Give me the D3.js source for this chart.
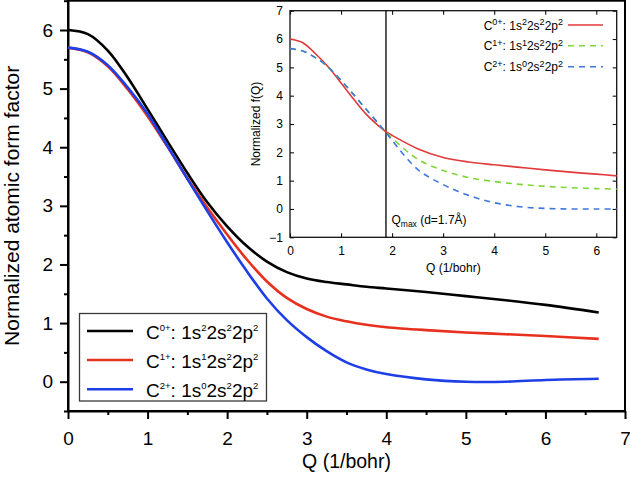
<!DOCTYPE html>
<html><head><meta charset="utf-8">
<script src="https://cdn.jsdelivr.net/npm/d3@7"></script>
<style>body{margin:0;background:#fff}svg{display:block}text{font-family:"Liberation Sans",Arial,sans-serif;fill:#000}</style>
</head><body><svg id="c" width="630" height="487"></svg>
<script>
// ---------- main chart data ----------
const qMain = [0, 0.25, 0.5, 0.75, 1.0, 1.25, 1.5, 1.75, 2.0, 2.25, 2.5, 2.75, 3.0, 3.25, 3.5, 3.75, 4.0, 4.5, 5.0, 5.5, 6.0, 6.67];
const fC0 = [6.00, 5.93, 5.65, 5.19, 4.65, 4.10, 3.56, 3.06, 2.65, 2.31, 2.05, 1.87, 1.76, 1.70, 1.66, 1.62, 1.59, 1.53, 1.46, 1.39, 1.31, 1.18];
const fC1 = [5.70, 5.62, 5.38, 4.99, 4.53, 4.01, 3.47, 2.97, 2.51, 2.08, 1.71, 1.43, 1.24, 1.11, 1.03, 0.97, 0.93, 0.88, 0.84, 0.81, 0.78, 0.73];
const fC2 = [5.70, 5.63, 5.40, 5.02, 4.57, 4.02, 3.46, 2.91, 2.38, 1.88, 1.42, 1.05, 0.76, 0.52, 0.33, 0.21, 0.13, 0.04, 0.00, 0.00, 0.03, 0.05];
const xTicksMain = [0, 1, 2, 3, 4, 5, 6, 7];
const yTicksMain = [0, 1, 2, 3, 4, 5, 6];
const mainNames = ["C0+", "C1+", "C2+"];
const mainShells = ["2", "1", "0"];

// ---------- inset data ----------
const qInset = [0, 0.25, 0.5, 0.75, 1.0, 1.25, 1.5, 1.75, 1.86, 2.0, 2.5, 3.0, 3.5, 4.0, 4.5, 5.0, 5.5, 6.0, 6.4];
const inC0 = [6.00, 5.87, 5.48, 5.01, 4.45, 3.87, 3.33, 2.91, 2.75, 2.60, 2.13, 1.82, 1.66, 1.56, 1.47, 1.38, 1.30, 1.23, 1.17];
const inC1 = [5.66, 5.58, 5.34, 5.01, 4.54, 4.03, 3.50, 2.98, 2.75, 2.50, 1.76, 1.36, 1.11, 0.97, 0.87, 0.80, 0.75, 0.72, 0.70];
const inC2 = [5.66, 5.58, 5.34, 5.01, 4.54, 4.03, 3.50, 2.98, 2.75, 2.42, 1.40, 0.86, 0.48, 0.22, 0.08, 0.02, 0.00, 0.00, 0.00];
const xTicksInset = [0, 1, 2, 3, 4, 5, 6];
const yTicksInset = [-1, 0, 1, 2, 3, 4, 5, 6, 7];
const qMax = 1.88;

const svg = d3.select("#c");

// ---------- main scales ----------
const x = d3.scaleLinear().domain([0, 7]).range([68, 625]);
const y = d3.scaleLinear().domain([-0.5, 6.5]).range([411, 0.7]);
const mainColors = ["#000000", "#e8301e", "#1e3ee6"];

// frame
svg.append("rect").attr("x", x(0)).attr("y", y(6.5)).attr("width", x(7) - x(0)).attr("height", y(-0.5) - y(6.5))
  .attr("fill", "none").attr("stroke", "#000").attr("stroke-width", 2);

// x axis
const xMinor = d3.range(0.5, 7, 1);
const gxm = svg.append("g").attr("transform", `translate(0,${y(-0.5)})`)
  .call(d3.axisBottom(x).tickValues(xMinor).tickSize(4).tickFormat(""));
gxm.select(".domain").remove();
gxm.selectAll("line").attr("stroke-width", 2);
const gx = svg.append("g").attr("transform", `translate(0,${y(-0.5)})`)
  .call(d3.axisBottom(x).tickValues(xTicksMain).tickSize(8).tickSizeOuter(0).tickPadding(13).tickFormat(d3.format("d")));
gx.select(".domain").attr("stroke-width", 2);
gx.selectAll("line").attr("stroke-width", 2);
gx.selectAll("text").attr("font-size", 19).attr("font-family", "Liberation Sans, Arial, sans-serif").attr("fill", "#000");

// y axis
const yMinor = d3.range(-0.5, 6.6, 1);
const gym = svg.append("g").attr("transform", `translate(${x(0)},0)`)
  .call(d3.axisLeft(y).tickValues(yMinor).tickSize(4).tickFormat(""));
gym.select(".domain").remove();
gym.selectAll("line").attr("stroke-width", 2);
const gy = svg.append("g").attr("transform", `translate(${x(0)},0)`)
  .call(d3.axisLeft(y).tickValues(yTicksMain).tickSize(8).tickSizeOuter(0).tickPadding(7).tickFormat(d3.format("d")));
gy.select(".domain").attr("stroke-width", 2);
gy.selectAll("line").attr("stroke-width", 2);
gy.selectAll("text").attr("font-size", 19).attr("font-family", "Liberation Sans, Arial, sans-serif").attr("fill", "#000");

// axis titles
svg.append("text").attr("x", (x(0) + x(7)) / 2).attr("y", 468).attr("text-anchor", "middle")
  .attr("font-size", 19.5).text("Q (1/bohr)");
svg.append("text").attr("transform", `translate(19,${(y(-0.5) + y(6.5)) / 2}) rotate(-90)`)
  .attr("text-anchor", "middle").attr("font-size", 21).text("Normalized atomic form factor");

// curves
const mainSeries = [fC0, fC1, fC2];
const lineMain = d3.line().x(d => x(d[0])).y(d => y(d[1])).curve(d3.curveCatmullRom.alpha(0.5));
mainSeries.forEach((s, i) => {
  svg.append("path").datum(qMain.map((q, j) => [q, s[j]]))
    .attr("d", lineMain).attr("fill", "none").attr("stroke", mainColors[i]).attr("stroke-width", 2.6)
    .attr("stroke-linejoin", "round");
});

// label builder with superscripts
function richLabel(sel, name, k, fs, supFs, supDy) {
  const parts = [
    ["C", 0], [name.slice(1), 1], [": 1s", 0], [k, 1], ["2s", 0], ["2", 1], ["2p", 0], ["2", 1]
  ];
  let up = false;
  parts.forEach(([t, sup]) => {
    const ts = sel.append("tspan").text(t).attr("font-size", sup ? supFs : fs);
    if (sup && !up) { ts.attr("dy", -supDy); up = true; }
    else if (!sup && up) { ts.attr("dy", supDy); up = false; }
  });
}

// main legend
const lg = svg.append("g");
lg.append("rect").attr("x", 79.5).attr("y", 313.5).attr("width", 187).attr("height", 87.5)
  .attr("fill", "#fff").attr("stroke", "#3a3a3a").attr("stroke-width", 1.3);
const legRows = [331, 360, 389.3];
mainNames.forEach((n, i) => {
  lg.append("line").attr("x1", 87).attr("x2", 133).attr("y1", legRows[i]).attr("y2", legRows[i])
    .attr("stroke", mainColors[i]).attr("stroke-width", 2.6);
  const t = lg.append("text").attr("x", 146).attr("y", legRows[i] + 8).attr("font-size", 19);
  richLabel(t, n, mainShells[i], 19, 9.5, 8);
});

// ---------- inset ----------
const xi = d3.scaleLinear().domain([0, 6.4]).range([290, 616.7]);
const yi = d3.scaleLinear().domain([-1, 7]).range([237.3, 10.7]);
const inColors = ["#e23a3a", "#7fd636", "#3f78dc"];
const ins = svg.append("g");
ins.append("rect").attr("x", xi(0)).attr("y", yi(7)).attr("width", xi(6.4) - xi(0)).attr("height", yi(-1) - yi(7))
  .attr("fill", "#fff");

const styleInsetAxis = g => {
  g.select(".domain").remove();
  g.selectAll("line").attr("stroke", "#111").attr("stroke-width", 1.1);
  g.selectAll("text").attr("font-size", 12).attr("font-family", "Liberation Sans, Arial, sans-serif").attr("fill", "#000");
};
const fmtMinus = d => (d < 0 ? "\u2212" + Math.abs(d) : String(d));
ins.append("g").attr("transform", `translate(0,${yi(-1)})`)
  .call(d3.axisBottom(xi).tickValues(xTicksInset).tickSize(-4).tickSizeOuter(0).tickPadding(9).tickFormat(fmtMinus))
  .call(styleInsetAxis);
ins.append("g").attr("transform", `translate(0,${yi(7)})`)
  .call(d3.axisTop(xi).tickValues(xTicksInset).tickSize(-4).tickSizeOuter(0).tickFormat(""))
  .call(styleInsetAxis);
ins.append("g").attr("transform", `translate(${xi(0)},0)`)
  .call(d3.axisLeft(yi).tickValues(yTicksInset).tickSize(-4).tickSizeOuter(0).tickPadding(7).tickFormat(fmtMinus))
  .call(styleInsetAxis);
ins.append("g").attr("transform", `translate(${xi(6.4)},0)`)
  .call(d3.axisRight(yi).tickValues(yTicksInset).tickSize(-4).tickSizeOuter(0).tickFormat(""))
  .call(styleInsetAxis);

ins.append("rect").attr("x", xi(0)).attr("y", yi(7)).attr("width", xi(6.4) - xi(0)).attr("height", yi(-1) - yi(7))
  .attr("fill", "none").attr("stroke", "#111").attr("stroke-width", 1.3);

// Qmax line
ins.append("line").attr("x1", xi(qMax)).attr("x2", xi(qMax)).attr("y1", yi(7)).attr("y2", yi(-1))
  .attr("stroke", "#111").attr("stroke-width", 1.4);
const qt = ins.append("text").attr("x", xi(qMax) + 5.5).attr("y", 224).attr("font-size", 12);
qt.append("tspan").text("Q");
qt.append("tspan").text("max").attr("font-size", 8.5).attr("dy", 3);
qt.append("tspan").text(" (d=1.7\u00c5)").attr("dy", -3);

// inset curves
const lineIn = d3.line().x(d => xi(d[0])).y(d => yi(d[1])).curve(d3.curveCatmullRom.alpha(0.5));
const inSeries = [inC0, inC1, inC2];
const dashes = [null, "6,5", "6,5"];
inSeries.forEach((s, i) => {
  const p = ins.append("path").datum(qInset.map((q, j) => [q, s[j]]))
    .attr("d", lineIn).attr("fill", "none").attr("stroke", inColors[i]).attr("stroke-width", 1.6);
  if (dashes[i]) p.attr("stroke-dasharray", dashes[i]);
});

// inset axis titles
ins.append("text").attr("x", (xi(0) + xi(6.4)) / 2).attr("y", 272).attr("text-anchor", "middle")
  .attr("font-size", 12).text("Q (1/bohr)");
ins.append("text").attr("transform", `translate(260,${(yi(-1) + yi(7)) / 2}) rotate(-90)`)
  .attr("text-anchor", "middle").attr("font-size", 12).text("Normalized f(Q)");

// inset legend
const inRows = [25, 45.8, 66.7];
mainNames.forEach((n, i) => {
  const t = ins.append("text").attr("x", 563).attr("y", inRows[i] + 4.5).attr("text-anchor", "end").attr("font-size", 12);
  richLabel(t, n, mainShells[i], 12, 9, 4.5);
  const l = ins.append("line").attr("x1", 568).attr("x2", 603).attr("y1", inRows[i]).attr("y2", inRows[i])
    .attr("stroke", inColors[i]).attr("stroke-width", 1.6);
  if (dashes[i]) l.attr("stroke-dasharray", dashes[i]);
});
</script></body></html>
